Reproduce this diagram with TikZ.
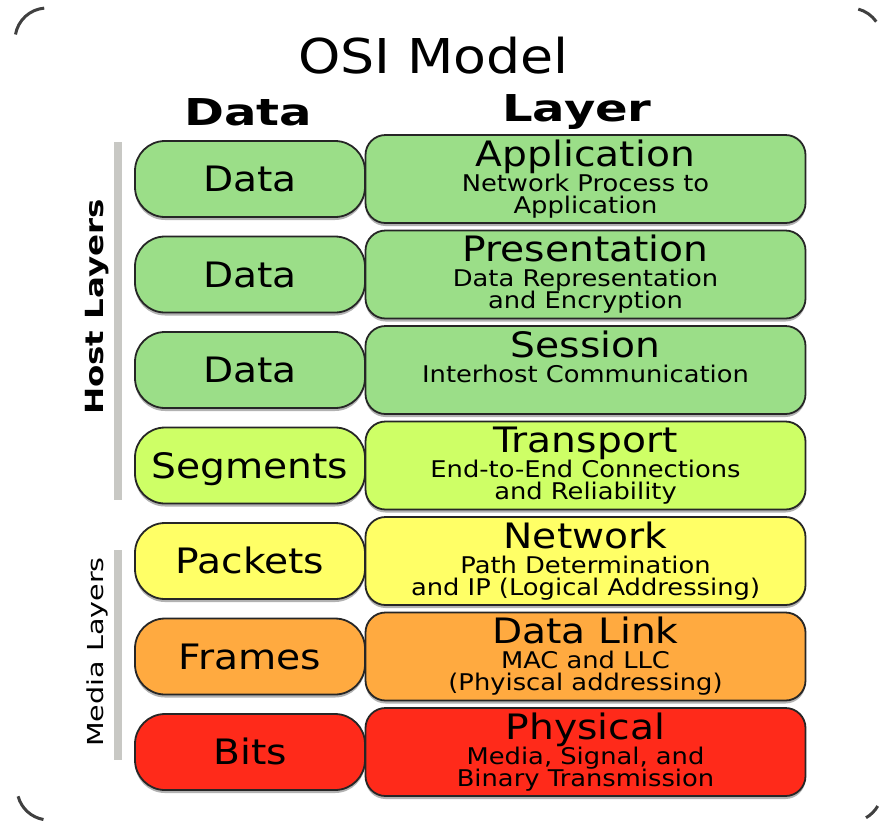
\documentclass[tikz,border=0pt]{standalone}
\usepackage{fontspec}
\setmainfont{DejaVu Sans}[FakeStretch=1.12]
\newfontfamily\widefont{DejaVu Sans}[FakeStretch=1.3]
\usetikzlibrary{shadows}

\definecolor{hostgreen}{RGB}{155,222,136}
\definecolor{transgreen}{RGB}{206,255,102}
\definecolor{netyellow}{RGB}{255,255,102}
\definecolor{linkorange}{RGB}{255,170,64}
\definecolor{physred}{RGB}{255,42,26}
\definecolor{bargray}{RGB}{200,200,196}

\tikzset{
    boxshadow/.style={drop shadow={shadow xshift=0pt, shadow yshift=-3pt, fill=black!50, opacity=0.6}},
    pdubox/.style={draw=black!85, line width=1.8pt, rounded corners=30pt,
        minimum width=230pt, minimum height=76pt, inner sep=0pt,
        text height=25pt, text depth=0pt, font=\fontsize{35}{40}\selectfont, boxshadow},
    layerbox/.style={draw=black!85, line width=1.8pt, rounded corners=20pt,
        minimum width=440pt, minimum height=88pt, inner sep=0pt, boxshadow},
    layername/.style={anchor=base, inner sep=0pt, font=\fontsize{35}{40}\selectfont},
    layerinfo/.style={anchor=base, inner sep=0pt, font=\fontsize{23}{25}\selectfont},
    header/.style={anchor=base, inner sep=0pt, font=\widefont\bfseries\fontsize{37}{40}\selectfont},
    sidebar/.style={bargray, line width=8pt},
    framecorner/.style={black!75, line width=3pt},
}

\begin{document}
\begin{tikzpicture}[x=1pt, y=-1pt]
    \fill[white] (0,0) rectangle (880,820);
    \useasboundingbox (0,0) rectangle (880,820);

    \node[anchor=base, inner sep=0pt, font=\fontsize{48}{52}\selectfont] (title) at (433.5,73) {OSI Model};
    \node[header] (datahead) at (248,125) {Data};
    \node[header] (layerhead) at (577,121) {Layer};

    % one row for every layer
    \foreach \i/\pdu/\name/\infoa/\infob/\col in {
        1/Data/Application/Network Process to/Application/hostgreen,
        2/Data/Presentation/Data Representation/and Encryption/hostgreen,
        3/Data/Session/Interhost Communication//hostgreen,
        4/Segments/Transport/End-to-End Connections/and Reliability/transgreen,
        5/Packets/Network/Path Determination/and IP (Logical Addressing)/netyellow,
        6/Frames/Data Link/MAC and LLC/(Phyiscal addressing)/linkorange,
        7/Bits/Physical/{Media, Signal, and}/Binary Transmission/physred}
    {
        \pgfmathsetmacro\y{179+95.5*(\i-1)}
        \node[pdubox, fill=\col] (P\i) at (250,\y) {\pdu};
        \node[layerbox, fill=\col] (L\i) at (585.5,\y) {};
        \node[layername] (N\i) at (585.5,\y-13) {\name};
        \node[layerinfo] (A\i) at (585.5,\y+12) {\infoa};
        \node[layerinfo] (B\i) at (585.5,\y+34) {\infob};
    }

    % side bars and their labels
    \coordinate (hosttop) at (117.5,142);
    \coordinate (hostend) at (117.5,500);
    \coordinate (mediatop) at (117.5,550);
    \coordinate (mediaend) at (117.5,760);
    \draw[sidebar] (hosttop) -- (hostend);
    \draw[sidebar] (mediatop) -- (mediaend);
    \node[rotate=90, inner sep=0pt, font=\widefont\bfseries\fontsize{25}{30}\selectfont] (host) at (97,307) {Host Layers};
    \node[rotate=90, inner sep=0pt, font=\widefont\fontsize{22}{26}\selectfont] (media) at (97,652) {Media Layers};

    % corners of the outer frame
    \draw[framecorner] (47,40) ++(190:32) arc[start angle=190, end angle=265, radius=32];
    \draw[framecorner] (49,788) ++(165:32) arc[start angle=165, end angle=100, radius=32];
    \draw[framecorner] (850,40) ++(285:32) arc[start angle=285, end angle=325, radius=32];
    \draw[framecorner] (850,790) ++(30:32) arc[start angle=30, end angle=60, radius=32];
\end{tikzpicture}
\end{document}
